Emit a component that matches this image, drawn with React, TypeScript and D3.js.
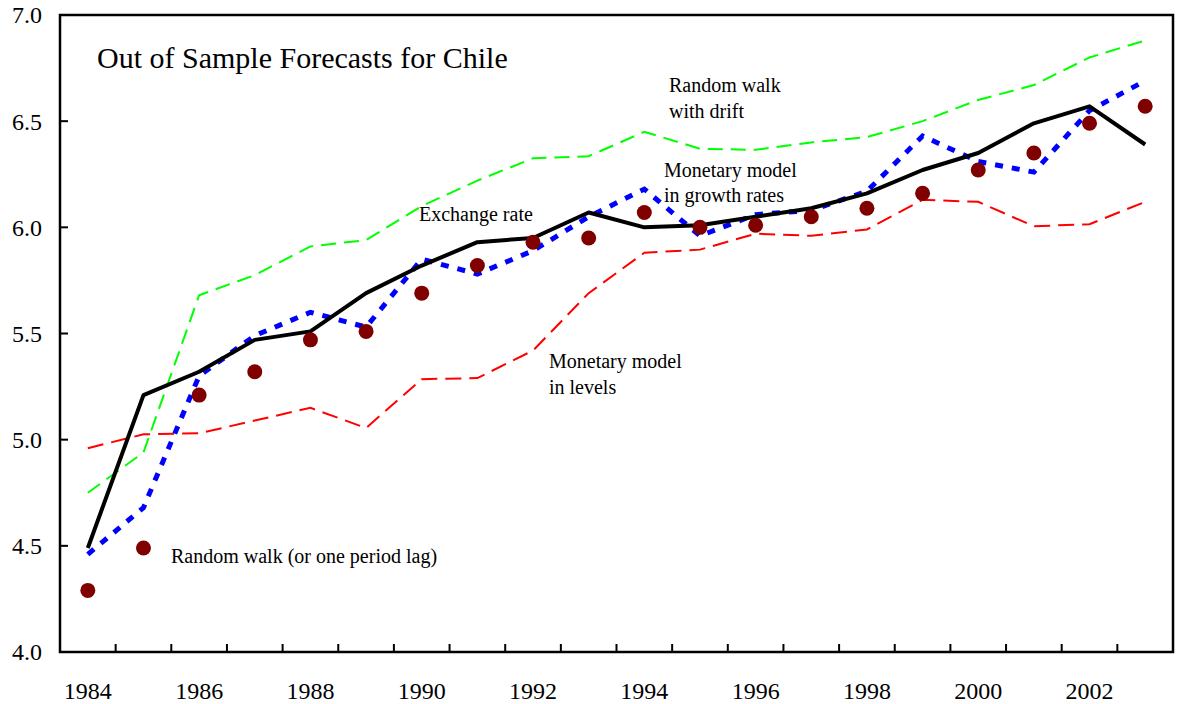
import * as d3 from "d3";

const years = d3.range(1984, 2004).map(String);
const yTicks = [4.0, 4.5, 5.0, 5.5, 6.0, 6.5, 7.0];
const xLabelYears = ["1984", "1986", "1988", "1990", "1992", "1994", "1996", "1998", "2000", "2002"];

const exchangeRate = [4.49, 5.21, 5.32, 5.47, 5.51, 5.69, 5.82, 5.93, 5.95, 6.07, 6.0, 6.01, 6.05, 6.09, 6.16, 6.27, 6.35, 6.49, 6.57, 6.39];
const randomWalk = [4.29, 4.49, 5.21, 5.32, 5.47, 5.51, 5.69, 5.82, 5.93, 5.95, 6.07, 6.0, 6.01, 6.05, 6.09, 6.16, 6.27, 6.35, 6.49, 6.57];
const growthModel = [4.46, 4.68, 5.3, 5.49, 5.6, 5.53, 5.85, 5.78, 5.89, 6.05, 6.18, 5.96, 6.06, 6.08, 6.17, 6.43, 6.31, 6.26, 6.55, 6.69];
const drift = [4.75, 4.94, 5.68, 5.775, 5.91, 5.94, 6.1, 6.22, 6.325, 6.335, 6.45, 6.37, 6.365, 6.4, 6.425, 6.5, 6.6, 6.67, 6.8, 6.88];
const levelsModel = [4.96, 5.025, 5.03, 5.09, 5.15, 5.055, 5.285, 5.29, 5.42, 5.69, 5.88, 5.895, 5.97, 5.96, 5.99, 6.13, 6.12, 6.005, 6.015, 6.12];

const W = 1177;
const H = 704;
const left = 60, right = 1173, top = 15, bottom = 652;
const font = "'Liberation Serif', 'Times New Roman', serif";

export default function App() {
  const x = d3.scaleBand<string>().domain(years).range([left, right]);
  const cx = (i: number) => (x(years[i]) as number) + x.bandwidth() / 2;
  const y = d3.scaleLinear().domain([4, 7]).range([bottom, top]);
  const line = d3
    .line<number>()
    .x((_, i) => cx(i))
    .y(d => y(d));

  const boundaries = years.slice(1).map(yr => x(yr) as number);

  return (
    <svg width={W} height={H} style={{ position: "absolute", left: 0, top: 0, background: "#fff" }} fontFamily={font}>
      <path d={line(drift) ?? ""} fill="none" stroke="#00ff00" strokeWidth={2} strokeDasharray="15,8" />
      <path d={line(levelsModel) ?? ""} fill="none" stroke="#ff0000" strokeWidth={2} strokeDasharray="16,8" />
      <path d={line(growthModel) ?? ""} fill="none" stroke="#0000ff" strokeWidth={5} strokeDasharray="8,9" />
      <path d={line(exchangeRate) ?? ""} fill="none" stroke="#000" strokeWidth={4} strokeLinejoin="round" />
      {randomWalk.map((v, i) => (
        <circle key={i} cx={cx(i)} cy={y(v)} r={7.5} fill="#800000" />
      ))}

      {/* frame */}
      <rect x={left} y={top} width={right - left} height={bottom - top} fill="none" stroke="#000" strokeWidth={2.5} />

      {yTicks.map(t => (
        <g key={t}>
          <line x1={left} x2={left + 8} y1={y(t)} y2={y(t)} stroke="#000" strokeWidth={2} />
          <text x={42} y={y(t)} dy="0.35em" textAnchor="end" fontSize={24}>
            {t.toFixed(1)}
          </text>
        </g>
      ))}
      {boundaries.map((b, i) => (
        <line key={i} x1={b} x2={b} y1={bottom} y2={bottom - 8} stroke="#000" strokeWidth={2} />
      ))}
      {xLabelYears.map(yr => (
        <text key={yr} x={(x(yr) as number) + x.bandwidth() / 2} y={699} textAnchor="middle" fontSize={24}>
          {yr}
        </text>
      ))}

      <text x={97} y={68} fontSize={30}>Out of Sample Forecasts for Chile</text>

      <g fontSize={20}>
        <text x={669} y={92}>Random walk</text>
        <text x={669} y={118}>with drift</text>
        <text x={664} y={177}>Monetary model</text>
        <text x={664} y={202}>in growth rates</text>
        <text x={419} y={221}>Exchange rate</text>
        <text x={549} y={368}>Monetary model</text>
        <text x={549} y={394}>in levels</text>
        <text x={171} y={563}>Random walk (or one period lag)</text>
      </g>
    </svg>
  );
}
